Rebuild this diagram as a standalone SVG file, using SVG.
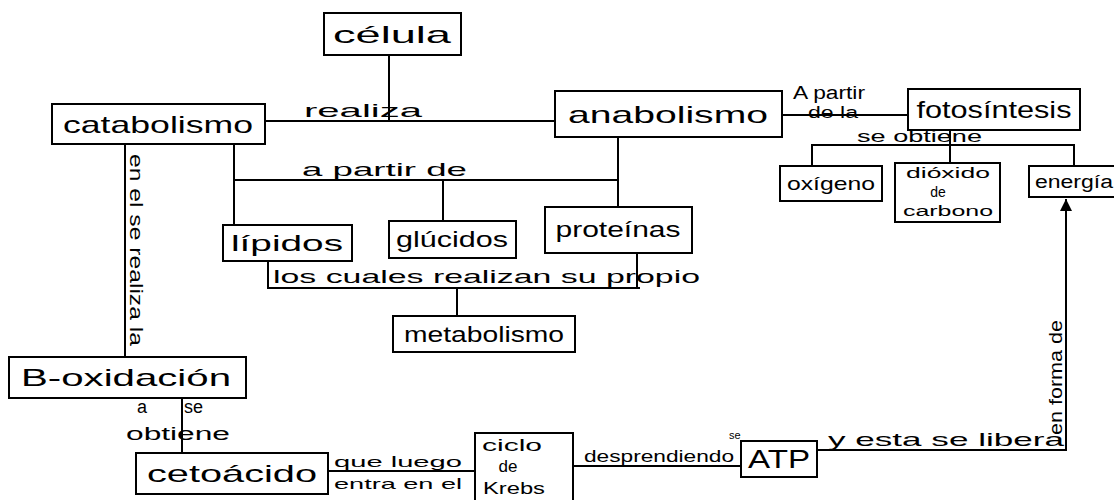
<svg xmlns="http://www.w3.org/2000/svg" width="1114" height="500" viewBox="0 0 1114 500">
  <style>
    .box { fill: #ffffff; stroke: #000000; stroke-width: 2; }
    .edge { fill: none; stroke: #000000; stroke-width: 2; }
    .node { font-family: "Liberation Sans", Arial, sans-serif; fill: #000000; text-anchor: middle; }
    .lbl { font-family: "Liberation Sans", Arial, sans-serif; fill: #000000; }
  </style>
  <defs>
    <marker id="tip" viewBox="0 0 10 10" markerWidth="12" markerHeight="14" refX="10" refY="5" orient="auto" markerUnits="userSpaceOnUse">
      <path d="M0,0 L10,5 L0,10 Z" fill="#000000"/>
    </marker>
  </defs>

  <rect width="1114" height="500" fill="#ffffff"/>

  <!-- connectors -->
  <g id="connectors">
    <!-- célula to the catabolism / anabolism line -->
    <path class="edge" d="M389,55 V121"/>
    <path class="edge" d="M265,121 H555"/>
    <!-- anabolismo to fotosíntesis -->
    <path class="edge" d="M782,115 H908"/>
    <!-- fotosíntesis products -->
    <path class="edge" d="M950,130 V163"/>
    <path class="edge" d="M812,166 V145 H1074 V166"/>
    <!-- sources: lípidos, glúcidos, proteínas -->
    <path class="edge" d="M234,144 V225"/>
    <path class="edge" d="M234,180 H618"/>
    <path class="edge" d="M618,137 V207"/>
    <path class="edge" d="M443,180 V221"/>
    <!-- los cuales realizan su propio metabolismo -->
    <path class="edge" d="M268,261 V288 H640"/>
    <path class="edge" d="M637,253 V288"/>
    <path class="edge" d="M457,288 V316"/>
    <!-- catabolismo to B-oxidación -->
    <path class="edge" d="M125,144 V357"/>
    <!-- B-oxidación to cetoácido -->
    <path class="edge" d="M182,398 V453"/>
    <!-- cetoácido to ciclo de Krebs -->
    <path class="edge" d="M328,471 H475"/>
    <!-- ciclo de Krebs to ATP -->
    <path class="edge" d="M573,466 H741"/>
    <!-- ATP up to energía -->
    <path class="edge" d="M817,450 H1066 V199" marker-end="url(#tip)"/>

    <!-- connector labels -->
    <text class="lbl" x="304" y="117" style="font-size:19px" textLength="118" lengthAdjust="spacingAndGlyphs">realiza</text>
    <text class="lbl" x="793" y="99" style="font-size:18px" textLength="72" lengthAdjust="spacingAndGlyphs">A partir</text>
    <text class="lbl" x="808" y="118" style="font-size:16px" textLength="50" lengthAdjust="spacingAndGlyphs">de la</text>
    <text class="lbl" x="857" y="142" style="font-size:17px" textLength="125" lengthAdjust="spacingAndGlyphs">se obtiene</text>
    <text class="lbl" x="302" y="176" style="font-size:19px" textLength="165" lengthAdjust="spacingAndGlyphs">a partir de</text>
    <text class="lbl" x="273" y="283" style="font-size:19px" textLength="427" lengthAdjust="spacingAndGlyphs">los cuales realizan su propio</text>
    <text class="lbl" style="font-size:18px" transform="translate(130,154) rotate(90)" textLength="192" lengthAdjust="spacingAndGlyphs">en el se realiza la</text>
    <text class="lbl" x="137" y="413" style="font-size:18px">a</text>
    <text class="lbl" x="184" y="413" style="font-size:18px">se</text>
    <text class="lbl" x="126" y="440" style="font-size:18px" textLength="104" lengthAdjust="spacingAndGlyphs">obtiene</text>
    <text class="lbl" x="334" y="467" style="font-size:15px" textLength="128" lengthAdjust="spacingAndGlyphs">que luego</text>
    <text class="lbl" x="334" y="489" style="font-size:15px" textLength="128" lengthAdjust="spacingAndGlyphs">entra en el</text>
    <text class="lbl" x="584" y="462" style="font-size:16px" textLength="150" lengthAdjust="spacingAndGlyphs">desprendiendo</text>
    <text class="lbl" x="729" y="439" style="font-size:11px">se</text>
    <text class="lbl" x="828" y="446" style="font-size:19px" textLength="236" lengthAdjust="spacingAndGlyphs">y esta se libera</text>
    <text class="lbl" style="font-size:18px" transform="translate(1062,435) rotate(-90)" textLength="115" lengthAdjust="spacingAndGlyphs">en forma de</text>
  </g>

  <!-- nodes -->
  <g id="celula">
    <rect class="box" x="324" y="13" width="137" height="42"/>
    <text class="node" x="392" y="43" style="font-size:24px" textLength="118" lengthAdjust="spacingAndGlyphs">célula</text>
  </g>
  <g id="catabolismo">
    <rect class="box" x="52" y="104" width="213" height="40"/>
    <text class="node" x="158" y="133" style="font-size:24px" textLength="190" lengthAdjust="spacingAndGlyphs">catabolismo</text>
  </g>
  <g id="anabolismo">
    <rect class="box" x="555" y="91" width="227" height="46"/>
    <text class="node" x="668" y="123" style="font-size:24px" textLength="200" lengthAdjust="spacingAndGlyphs">anabolismo</text>
  </g>
  <g id="fotosintesis">
    <rect class="box" x="908" y="89" width="172" height="41"/>
    <text class="node" x="994" y="118" style="font-size:24px" textLength="155" lengthAdjust="spacingAndGlyphs">fotosíntesis</text>
  </g>
  <g id="oxigeno">
    <rect class="box" x="780" y="166" width="102" height="35"/>
    <text class="node" x="831" y="190" style="font-size:19px" textLength="88" lengthAdjust="spacingAndGlyphs">oxígeno</text>
  </g>
  <g id="dioxido-carbono">
    <rect class="box" x="895" y="163" width="105" height="59"/>
    <text class="node" x="948" y="178" style="font-size:14px" textLength="84" lengthAdjust="spacingAndGlyphs">dióxido</text>
    <text class="node" x="938" y="197" style="font-size:14px">de</text>
    <text class="node" x="948" y="216" style="font-size:14px" textLength="90" lengthAdjust="spacingAndGlyphs">carbono</text>
  </g>
  <g id="energia">
    <rect class="box" x="1029" y="166" width="95" height="31"/>
    <text class="node" x="1035" y="188" style="font-size:18px;text-anchor:start" textLength="78" lengthAdjust="spacingAndGlyphs">energía</text>
  </g>
  <g id="lipidos">
    <rect class="box" x="223" y="225" width="129" height="36"/>
    <text class="node" x="287" y="251" style="font-size:22px" textLength="112" lengthAdjust="spacingAndGlyphs">lípidos</text>
  </g>
  <g id="glucidos">
    <rect class="box" x="389" y="221" width="127" height="37"/>
    <text class="node" x="452" y="247" style="font-size:22px" textLength="112" lengthAdjust="spacingAndGlyphs">glúcidos</text>
  </g>
  <g id="proteinas">
    <rect class="box" x="545" y="207" width="147" height="46"/>
    <text class="node" x="618" y="237" style="font-size:22px" textLength="125" lengthAdjust="spacingAndGlyphs">proteínas</text>
  </g>
  <g id="metabolismo">
    <rect class="box" x="393" y="316" width="182" height="36"/>
    <text class="node" x="484" y="342" style="font-size:22px" textLength="160" lengthAdjust="spacingAndGlyphs">metabolismo</text>
  </g>
  <g id="b-oxidacion">
    <rect class="box" x="9" y="357" width="237" height="41"/>
    <text class="node" x="126" y="386" style="font-size:24px" textLength="210" lengthAdjust="spacingAndGlyphs">B-oxidación</text>
  </g>
  <g id="cetoacido">
    <rect class="box" x="136" y="453" width="192" height="41"/>
    <text class="node" x="232" y="482" style="font-size:24px" textLength="170" lengthAdjust="spacingAndGlyphs">cetoácido</text>
  </g>
  <g id="ciclo-krebs">
    <rect class="box" x="475" y="433" width="98" height="75"/>
    <text class="node" x="512" y="451" style="font-size:17px" textLength="60" lengthAdjust="spacingAndGlyphs">ciclo</text>
    <text class="node" x="508" y="472" style="font-size:17px">de</text>
    <text class="node" x="514" y="494" style="font-size:17px" textLength="62" lengthAdjust="spacingAndGlyphs">Krebs</text>
  </g>
  <g id="atp">
    <rect class="box" x="741" y="441" width="76" height="36"/>
    <text class="node" x="779" y="468" style="font-size:25px" textLength="62" lengthAdjust="spacingAndGlyphs">ATP</text>
  </g>
</svg>
